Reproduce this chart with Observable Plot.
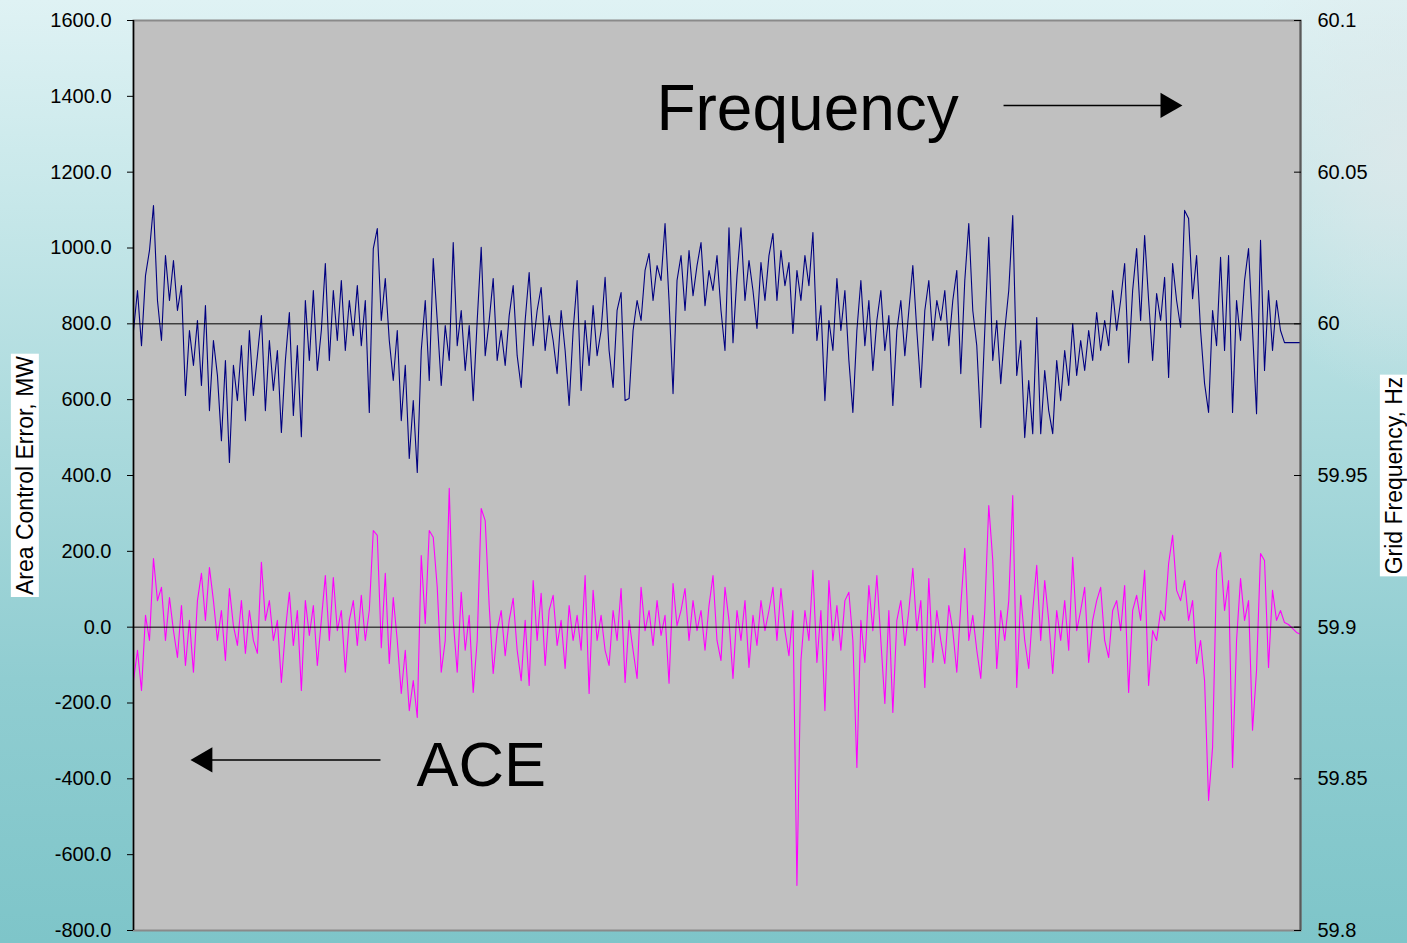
<!DOCTYPE html>
<html><head><meta charset="utf-8">
<script src="https://cdn.jsdelivr.net/npm/d3@7"></script>
<script src="https://cdn.jsdelivr.net/npm/@observablehq/plot@0.6"></script>
<style>
html,body{margin:0;padding:0;}
body{width:1407px;height:943px;overflow:hidden;
background:
 radial-gradient(ellipse 170px 250px at 1400px 150px, rgba(222,232,234,0.8), rgba(222,232,234,0) 100%),
 linear-gradient(180deg,#dff2f4 0%,#c6e7e9 22%,#a9d9dc 48%,#90cdd1 72%,#7ec5c9 100%);
font-family:"Liberation Sans",Arial,sans-serif;}
#chart svg{display:block;}
</style></head><body><div id="chart"></div><script>
// Grid frequency, Hz (right axis)
const freqHz = [
59.9978,60.0110,59.9928,60.0159,60.0242,60.0390,60.0077,59.9945,60.0225,60.0077,
60.0209,60.0044,60.0126,59.9764,59.9978,59.9863,60.0011,59.9797,60.0060,59.9714,
59.9945,59.9830,59.9615,59.9879,59.9543,59.9863,59.9747,59.9928,59.9681,59.9978,
59.9764,59.9895,60.0027,59.9714,59.9945,59.9780,59.9912,59.9642,59.9879,60.0037,
59.9698,59.9928,59.9628,60.0077,59.9879,60.0110,59.9846,59.9978,60.0199,59.9879,
60.0110,59.9945,60.0143,59.9912,60.0077,59.9961,60.0126,59.9928,60.0077,59.9708,
60.0248,60.0314,60.0011,60.0149,59.9945,59.9813,59.9978,59.9681,59.9863,59.9556,
59.9747,59.9510,59.9912,60.0077,59.9813,60.0215,60.0011,59.9797,59.9994,59.9879,
60.0268,59.9928,60.0044,59.9846,59.9994,59.9747,60.0011,60.0252,59.9895,60.0011,
60.0149,59.9879,59.9978,59.9863,60.0027,60.0126,59.9895,59.9790,60.0011,60.0169,
59.9928,60.0044,60.0120,59.9912,60.0027,59.9945,59.9836,60.0044,59.9912,59.9731,
59.9978,60.0143,59.9780,60.0011,59.9863,60.0060,59.9895,59.9978,60.0153,59.9912,
59.9790,60.0044,60.0103,59.9747,59.9754,59.9978,60.0077,60.0011,60.0176,60.0232,
60.0077,60.0192,60.0143,60.0331,60.0077,59.9770,60.0143,60.0225,60.0044,60.0242,
60.0093,60.0192,60.0268,60.0060,60.0176,60.0110,60.0225,60.0044,59.9912,60.0317,
59.9938,60.0159,60.0317,60.0077,60.0209,60.0110,59.9985,60.0202,60.0077,60.0225,
60.0298,60.0077,60.0242,60.0126,60.0202,59.9968,60.0176,60.0077,60.0225,60.0126,
60.0301,59.9945,60.0060,59.9747,60.0011,59.9912,60.0149,59.9978,60.0110,59.9879,
59.9708,59.9978,60.0143,59.9928,60.0077,59.9846,60.0011,60.0110,59.9912,60.0027,
59.9731,59.9978,60.0077,59.9895,60.0044,60.0192,59.9978,59.9790,60.0044,60.0143,
59.9945,60.0077,60.0011,60.0110,59.9928,60.0077,60.0176,59.9836,60.0143,60.0331,
60.0044,59.9928,59.9658,59.9978,60.0285,59.9879,60.0011,59.9803,59.9978,60.0110,
60.0357,59.9830,59.9945,59.9625,59.9813,59.9638,60.0021,59.9638,59.9846,59.9714,
59.9638,59.9879,59.9747,59.9912,59.9797,60.0001,59.9830,59.9945,59.9846,59.9978,
59.9879,60.0037,59.9912,60.0011,59.9928,60.0110,59.9978,60.0077,60.0199,59.9872,
60.0110,60.0248,60.0011,60.0291,60.0077,59.9879,60.0100,60.0011,60.0153,59.9823,
60.0199,60.0077,59.9988,60.0374,60.0347,60.0083,60.0225,59.9978,59.9803,59.9708,
60.0044,59.9928,60.0219,59.9912,60.0225,59.9708,60.0077,59.9945,60.0143,60.0248,
59.9978,59.9704,60.0275,59.9846,60.0110,59.9912,60.0077,59.9978,59.9938,59.9938,
59.9938,59.9938,59.9938
];
// Area Control Error, MW (left axis)
const aceMW = [
-141,-61,-167,31,-35,181,70,105,-35,78,
-9,-80,57,-101,18,-119,70,142,18,157,
70,-35,44,-88,102,4,-48,70,-69,44,
-35,-69,171,18,70,-35,18,-146,-9,92,
-48,44,-167,70,-22,57,-101,18,136,-35,
131,-9,44,-119,18,70,-48,84,-35,44,
255,242,-54,142,-96,78,-35,-175,-61,-220,
-141,-238,189,10,255,237,105,-119,-35,366,
18,-119,92,-61,31,-172,-35,313,281,57,
-122,-9,44,-75,18,76,-61,-141,18,-154,
123,-35,89,-101,44,84,-48,18,-109,57,
-35,31,-61,136,-175,97,-35,31,-61,-101,
44,-35,102,-146,18,-61,-135,105,-9,44,
-48,70,-22,31,-148,115,4,44,102,-35,
70,-9,44,-61,57,136,-35,-88,105,18,
-135,44,-35,70,-106,31,-48,70,-9,44,
105,-35,102,-9,-75,44,-681,-88,44,-35,
150,-93,44,-220,123,-35,57,-61,70,92,
-35,-370,18,-93,110,-9,136,-35,-201,44,
-225,18,70,-48,44,155,-9,70,-159,128,
-93,44,-35,-96,57,-9,-119,57,208,-35,
31,-61,-135,44,321,176,-109,44,-35,70,
347,-159,84,-35,-109,44,163,-35,123,18,
-122,44,-35,70,-61,184,-9,44,105,-93,
18,70,105,-35,-80,44,70,-9,110,-172,
44,84,18,150,-154,-9,-35,44,18,168,
242,97,70,123,18,70,-96,-35,-141,-457,
-317,150,197,44,123,-370,-35,128,18,70,
-272,-114,194,176,-106,97,18,44,12,7,
-3,-14,-19
];
const aceTicks = [-800,-600,-400,-200,0,200,400,600,800,1000,1200,1400,1600];
const freqTicks = [59.8,59.85,59.9,59.95,60,60.05,60.1];
const referenceFreq = 60;   // 60 Hz line
const referenceAce = 0;     // zero ACE line
const annotationLabels = ["Frequency","ACE"];
const axisTitles = ["Area Control Error, MW","Grid Frequency, Hz"];

const N = aceMW.length;
const ACE_MIN = -800, ACE_MAX = 1600, F_MIN = 59.8, F_MAX = 60.1;
const toLeft = f => (f - F_MIN) / (F_MAX - F_MIN) * (ACE_MAX - ACE_MIN) + ACE_MIN;
const toFreq = v => F_MIN + (v - ACE_MIN) / (ACE_MAX - ACE_MIN) * (F_MAX - F_MIN);

const chart = Plot.plot({
  width: 1407, height: 943,
  marginLeft: 133, marginRight: 107, marginTop: 20, marginBottom: 13,
  x: {domain: [0, N - 1], axis: null},
  y: {domain: [ACE_MIN, ACE_MAX], axis: null},
  style: {background: "transparent", fontFamily: "'Liberation Sans', Arial, sans-serif", fontSize: "20px", color: "#000", overflow: "visible"},
  marks: [
    Plot.frame({fill: "#c0c0c0", stroke: "#8a8a8a", strokeWidth: 2}),
    Plot.lineY(freqHz, {x: (d, i) => i, y: d => toLeft(d), stroke: "#000080", strokeWidth: 1.1}),
    Plot.lineY(aceMW, {x: (d, i) => i, y: d => d, stroke: "#ff00ff", strokeWidth: 1.1}),
    Plot.ruleY([referenceAce, toLeft(referenceFreq)], {stroke: "#000", strokeWidth: 1}),
    Plot.ruleX([0], {stroke: "#000", strokeWidth: 1.5}),
    Plot.ruleX([N - 1], {stroke: "#5a5a5a", strokeWidth: 2}),
    Plot.axisY(aceTicks, {anchor: "left", tickSize: 6, tickPadding: 16, tickFormat: d => d.toFixed(1)}),
    Plot.axisY(freqTicks.map(toLeft), {anchor: "right", tickSize: 7, dx: -7, tickPadding: 17,
      tickFormat: d => String(Number(toFreq(d).toFixed(2)))}),
    Plot.text([annotationLabels[0]], {x: 130.85, y: 1364, text: d => d, textAnchor: "start", fontSize: 64}),
    Plot.text([annotationLabels[1]], {x: 70.8, y: -366, text: d => d, textAnchor: "start", fontSize: 63}),
    Plot.link([1], {x1: 217.7, x2: 258.3, y1: 1376, y2: 1376, stroke: "#000", strokeWidth: 1.5}),
    Plot.dot([1], {x: 258.8, y: 1376, symbol: "triangle", r: 9.4, fill: "#000", rotate: 90}),
    Plot.link([1], {x1: 61.8, x2: 19.3, y1: -350, y2: -350, stroke: "#000", strokeWidth: 1.5}),
    Plot.dot([1], {x: 17.9, y: -350, symbol: "triangle", r: 9.4, fill: "#000", rotate: -90}),
    Plot.text([axisTitles[0]], {frameAnchor: "left", dx: -108, rotate: -90, textAnchor: "middle", text: d => d, fontSize: 23, className: "ytitle"}),
    Plot.text([axisTitles[1]], {frameAnchor: "right", dx: 94, rotate: -90, textAnchor: "middle", text: d => d, fontSize: 23, className: "ytitle"})
  ]
});
document.getElementById("chart").append(chart);
d3.select(chart).selectAll("g.ytitle text").each(function() {
  const bb = this.getBBox();
  const r = document.createElementNS("http://www.w3.org/2000/svg", "rect");
  r.setAttribute("x", bb.x - 2); r.setAttribute("y", bb.y - 1);
  r.setAttribute("width", bb.width + 4); r.setAttribute("height", bb.height + 2);
  r.setAttribute("fill", "#fff");
  const t = this.getAttribute("transform");
  if (t) r.setAttribute("transform", t);
  this.parentNode.insertBefore(r, this);
});
</script></body></html>
